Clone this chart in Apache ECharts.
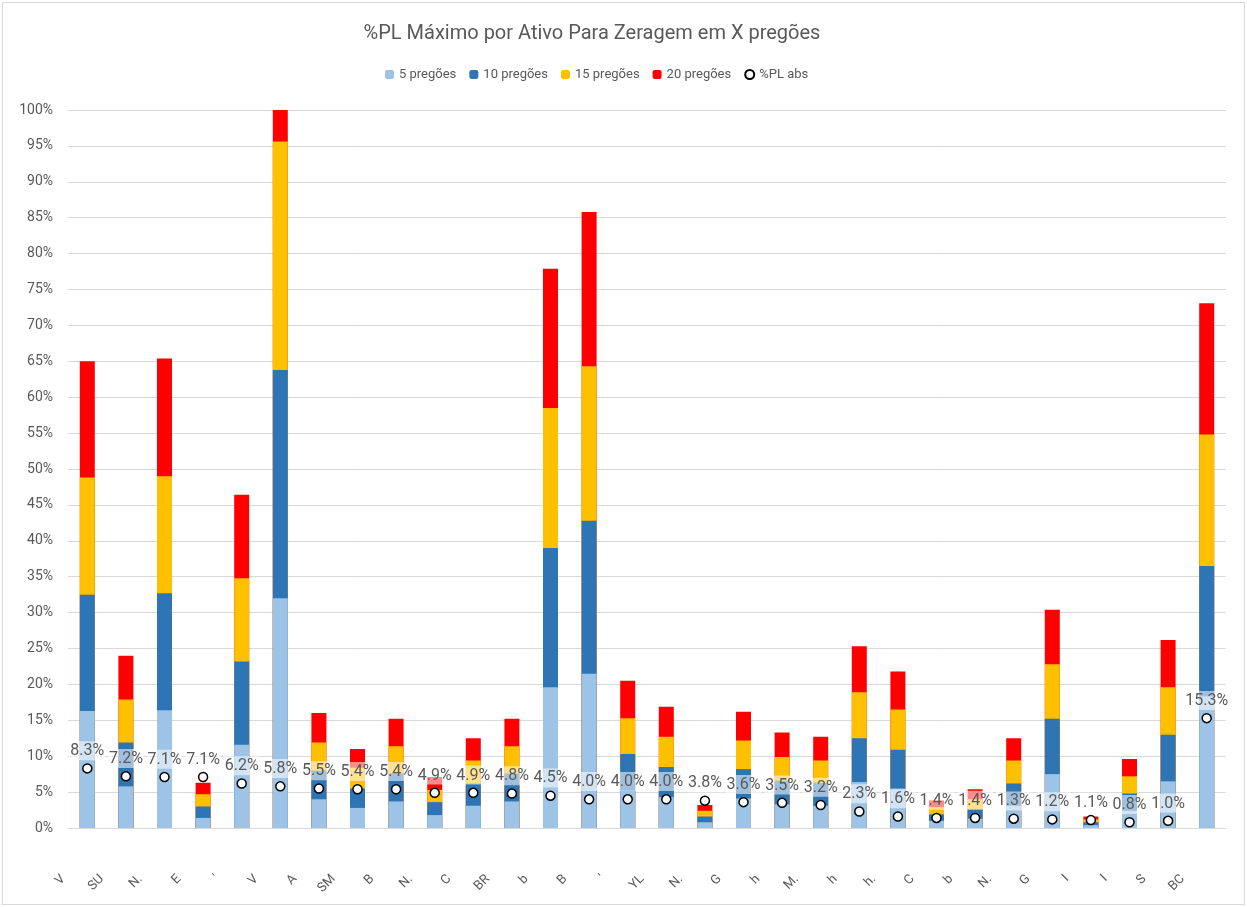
<!DOCTYPE html>
<html>
<head>
<meta charset="utf-8">
<title>%PL Máximo por Ativo</title>
<script src="https://cdn.jsdelivr.net/npm/echarts@6.0.0/dist/echarts.min.js"></script>
<style>
  html, body { margin: 0; padding: 0; background: #fff; }
  #chart { position: absolute; left: 2px; top: 2px; width: 1241px; height: 901px; border: 1px solid #d9d9d9; }
</style>
</head>
<body>
<div id="chart"></div>
<script>
// ativos (nomes cortados como no original)
const ativos = ['V', 'SU', 'N.', 'E', '\'', 'V', 'A', 'SM', 'B', 'N.', 'C', 'BR', 'b', 'B', '\'',
  'YL', 'N.', 'G', 'h', 'M.', 'h', 'h.', 'C', 'b', 'N.', 'G', 'I', 'I', 'S', 'BC'];

// %PL máximo para zeragem em X pregões
const preg5 = [16.3, 5.8, 16.4, 1.4, 11.6, 32.0, 4.0, 2.8, 3.7, 1.8, 3.1, 3.7, 19.6, 21.5, 5.2,
  4.3, 0.8, 4.1, 3.3, 3.1, 6.4, 5.5, 1.0, 1.3, 3.1, 7.5, 0.4, 2.4, 6.5, 18.3];
const preg10 = [32.5, 11.9, 32.7, 3.0, 23.2, 63.8, 8.0, 5.5, 7.6, 3.6, 6.2, 7.6, 39.0, 42.8, 10.3,
  8.5, 1.6, 8.2, 6.6, 6.3, 12.5, 10.9, 1.9, 2.6, 6.2, 15.2, 0.8, 4.8, 13.0, 36.5];
const preg15 = [48.8, 17.9, 49.0, 4.7, 34.8, 95.6, 11.9, 8.4, 11.4, 5.3, 9.4, 11.4, 58.5, 64.3, 15.3,
  12.7, 2.4, 12.2, 9.9, 9.4, 18.9, 16.5, 2.9, 4.0, 9.4, 22.8, 1.2, 7.2, 19.6, 54.8];
const preg20 = [65.0, 24.0, 65.4, 6.3, 46.4, 100, 16.0, 11.0, 15.2, 7.1, 12.5, 15.2, 77.9, 85.8, 20.5,
  16.9, 3.2, 16.2, 13.3, 12.7, 25.3, 21.8, 3.85, 5.4, 12.5, 30.4, 1.6, 9.6, 26.2, 73.1];
// %PL abs
const plAbs = [8.3, 7.2, 7.1, 7.1, 6.2, 5.8, 5.5, 5.4, 5.4, 4.9, 4.9, 4.8, 4.5, 4.0, 4.0,
  4.0, 3.8, 3.6, 3.5, 3.2, 2.3, 1.6, 1.4, 1.4, 1.3, 1.2, 1.1, 0.8, 1.0, 15.3];

const yTicks = { min: 0, max: 100, interval: 5 };

const fonte = 'Roboto, "Liberation Sans", sans-serif';
const cinza = '#595959';

const chart = echarts.init(document.getElementById('chart'));

function barra(nome, dados, cor, z) {
  return {
    name: nome,
    type: 'bar',
    data: dados,
    barWidth: 15,
    barGap: '-100%',
    z: z,
    itemStyle: { color: cor },
    emphasis: { disabled: true }
  };
}

chart.setOption({
  animation: false,
  textStyle: { fontFamily: fonte },
  title: {
    text: '%PL Máximo por Ativo Para Zeragem em X pregões',
    left: 584,
    top: 16,
    textAlign: 'center',
    textStyle: { fontSize: 20, fontWeight: 'normal', color: cinza, fontFamily: fonte }
  },
  legend: {
    data: ['5 pregões', '10 pregões', '15 pregões', '20 pregões', '%PL abs'],
    left: 377,
    top: 60,
    itemWidth: 9,
    itemHeight: 9,
    itemGap: 13,
    textStyle: { fontSize: 13, color: cinza, fontFamily: fonte }
  },
  grid: { left: 65, right: 18, top: 107, bottom: 76 },
  xAxis: {
    type: 'category',
    data: ativos,
    axisTick: { show: false },
    axisLine: { lineStyle: { color: '#d9d9d9' } },
    axisLabel: {
      interval: 0,
      rotate: 45,
      margin: 25,
      padding: [0, 34, 0, 0],
      fontSize: 13,
      color: cinza
    }
  },
  yAxis: {
    type: 'value',
    min: yTicks.min,
    max: yTicks.max,
    interval: yTicks.interval,
    axisLine: { show: false },
    axisTick: { show: false },
    axisLabel: { formatter: '{value}%', fontSize: 14, color: cinza, margin: 15 },
    splitLine: { lineStyle: { color: '#d9d9d9', width: 1 } }
  },
  series: [
    barra('5 pregões', preg5, '#9dc3e6', 5),
    barra('10 pregões', preg10, '#2e75b6', 4),
    barra('15 pregões', preg15, '#ffc000', 3),
    barra('20 pregões', preg20, '#ff0000', 2),
    {
      name: '%PL abs',
      type: 'scatter',
      data: plAbs,
      z: 10,
      symbol: 'circle',
      symbolSize: 9,
      itemStyle: { color: '#ffffff', borderColor: '#000000', borderWidth: 1.5, opacity: 1 },
      label: {
        show: true,
        position: 'top',
        distance: 3,
        formatter: p => p.value.toFixed(1) + '%',
        fontSize: 16,
        color: cinza,
        backgroundColor: 'rgba(255,255,255,0.55)',
        padding: [2, 1, 1, 1]
      },
      emphasis: { disabled: true }
    }
  ]
});
</script>
</body>
</html>
